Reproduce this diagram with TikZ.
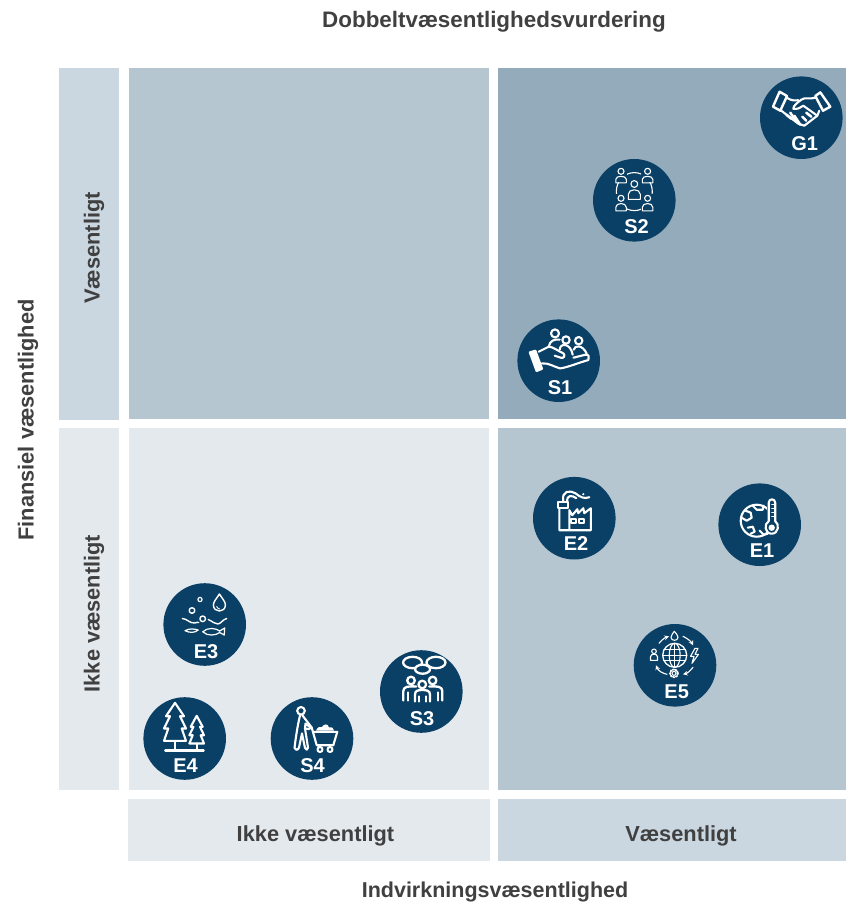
\documentclass[tikz,border=0pt]{standalone}
\usepackage{fontspec}
\setmainfont{Liberation Sans}
\definecolor{badgeblue}{HTML}{0A4066}
\definecolor{fieldpale}{HTML}{E4E9EE}
\definecolor{fieldlight}{HTML}{CAD7E0}
\definecolor{fieldmid}{HTML}{B5C6D1}
\definecolor{fielddark}{HTML}{94ABBB}
\definecolor{labelgrey}{HTML}{404040}
\tikzset{
    axislabel/.style={text=labelgrey,font=\fontsize{21.8}{24}\selectfont\bfseries,inner sep=0pt},
    badge/.style={circle,fill=badgeblue,minimum size=82.6pt,inner sep=0pt,outer sep=0pt},
    badgelabel/.style={text=white,font=\fontsize{20}{22}\selectfont\bfseries,inner sep=0pt},
    iconline/.style={draw=white,line width=2.1pt,line join=round,line cap=round},
    iconthin/.style={draw=white,line width=1.1pt,line join=round,line cap=round},
}
\begin{document}
\begin{tikzpicture}[x=1pt,y=-1pt]
    \useasboundingbox (0,0) rectangle (846,902);

    \fill[fieldmid] (129,68) rectangle (489,419);
    \fill[fielddark] (498,68) rectangle (846,419);
    \fill[fieldpale] (129,428) rectangle (489,790);
    \fill[fieldmid] (498,428) rectangle (846,790);
    \fill[fieldlight] (59,68) rectangle (119,420);
    \fill[fieldpale] (59,428) rectangle (119,790);
    \fill[fieldpale] (128,799) rectangle (490,861);
    \fill[fieldlight] (498,799) rectangle (846,861);

    \node[axislabel,font=\fontsize{22.4}{24}\selectfont\bfseries] (toptitle) at (494,21.5) {Dobbeltvæsentlighedsvurdering};
    \node[axislabel,font=\fontsize{21.5}{24}\selectfont\bfseries] (bottomtitle) at (495,892) {Indvirkningsvæsentlighed};
    \node[axislabel,rotate=90] (lefttitle) at (28,420) {Finansiel væsentlighed};
    \node[axislabel,rotate=90] (rowhigh) at (94,248) {Væsentligt};
    \node[axislabel,rotate=90] (rowlow) at (94,613.5) {Ikke væsentligt};
    \node[axislabel] (collow) at (315.5,836) {Ikke væsentligt};
    \node[axislabel] (colhigh) at (681,836) {Væsentligt};

    \node[badge] (gone) at (801.3,117.7) {};
    \node[badge] (stwo) at (634.3,200.3) {};
    \node[badge] (sone) at (558.7,360.7) {};
    \node[badge] (etwo) at (574.3,518.2) {};
    \node[badge] (eone) at (759.7,524.7) {};
    \node[badge] (efive) at (675,665.3) {};
    \node[badge] (ethree) at (204.7,624.5) {};
    \node[badge] (efour) at (184.7,738.5) {};
    \node[badge] (sfour) at (312,738.5) {};
    \node[badge] (sthree) at (421.3,691.5) {};

    \node[badgelabel] (gonelabel) at (804.7,143.5) {G1};
    \node[badgelabel] (stwolabel) at (636.6,226.2) {S2};
    \node[badgelabel] (sonelabel) at (560,387.5) {S1};
    \node[badgelabel] (etwolabel) at (576,544) {E2};
    \node[badgelabel] (eonelabel) at (762,550.5) {E1};
    \node[badgelabel] (efivelabel) at (676.7,691.5) {E5};
    \node[badgelabel] (ethreelabel) at (206,651.5) {E3};
    \node[badgelabel] (efourlabel) at (185.5,765.5) {E4};
    \node[badgelabel] (sfourlabel) at (312.5,765.5) {S4};
    \node[badgelabel] (sthreelabel) at (422,718.5) {S3};

    \begin{scope}[shift={(gone.center)},iconline]
        \draw[line width=2.4pt] (-21.7,-26)--(-28.3,-11)--(-21,-7)--(-14.3,-21.7)--cycle;
        \draw[line width=2.4pt] (19,-25.3)--(29,-11)--(21.7,-7)--(14,-21.7)--cycle;
        \draw (-14.5,-20) .. controls (-10,-17) and (-7,-17) .. (-3,-17.5);
        \draw (14,-20) .. controls (8,-18) and (4,-21) .. (0,-18) .. controls (-4,-15) and (-8,-12) .. (-8,-9) .. controls (-4,-8) and (-1,-10) .. (2,-12) -- (16,-2);
        \draw (18,-7)--(16,-2)--(3,8)--(-3,6)--(-20,-7);
        \draw[line width=2.6pt] (-15,-3)--(-10,1);
        \draw[line width=2.6pt] (-11,-5)--(-5,4);
        \draw[line width=2.6pt] (-7,-2)--(-1,7);
        \draw[line width=2.6pt] (5,3)--(1,-1);
        \draw[line width=2.6pt] (10,-1)--(5,-5);
    \end{scope}

    \begin{scope}[shift={(stwo.center)},iconthin]
        \draw (0,-8.7) ellipse (18 and 19);
        \fill[badgeblue] (-20,-32) rectangle (-7,-18);
        \fill[badgeblue] (7,-32) rectangle (20,-18);
        \fill[badgeblue] (-20,-6) rectangle (-7,11);
        \fill[badgeblue] (7,-6) rectangle (20,11);
        \draw (-13.3,-29) circle (3);
        \draw (13.3,-29) circle (3);
        \draw (0,-16.3) circle (3.4);
        \draw (-13.3,-2) circle (3);
        \draw (13.3,-2) circle (3);
        \draw (-18.5,-17.5)--(-18.5,-21) .. controls (-18.5,-25) and (-8,-25) .. (-8,-21) -- (-8,-17.5) -- cycle;
        \draw (8,-17.5)--(8,-21) .. controls (8,-25) and (18.5,-25) .. (18.5,-21) -- (18.5,-17.5) -- cycle;
        \draw (-6,-1)--(-6,-6) .. controls (-6,-12) and (6,-12) .. (6,-6) -- (6,-1) -- cycle;
        \draw (-18.5,10.5)--(-18.5,7) .. controls (-18.5,2) and (-8,2) .. (-8,7) -- (-8,10.5) -- cycle;
        \draw (8,10.5)--(8,7) .. controls (8,2) and (18.5,2) .. (18.5,7) -- (18.5,10.5) -- cycle;
    \end{scope}

    \begin{scope}[shift={(sone.center)},iconline]
        \fill[white,rounded corners=1pt] (-30.3,-9)--(-22.7,-11.3)--(-15.3,8.7)--(-22.7,11.7)--cycle;
        \draw (-20,-9) -- (-10,-14) .. controls (-6,-14) and (-1,-10) .. (4.7,-7.3) .. controls (7,-5) and (5,-2) .. (2,-3) -- (-4,-5);
        \draw (-17,2.7) .. controls (-10,2) and (-5,6) .. (1.3,7.7) .. controls (8,7) and (20,2) .. (29.7,-0.7) .. controls (31,-3) and (30,-7) .. (26.7,-6) -- (14.7,-3);
        \draw (-3.7,-27.3) circle (4);
        \draw (7.3,-20.7) circle (3.7);
        \draw (20,-20) circle (3.7);
        \draw (-10,-14) .. controls (-9,-20) and (-4,-22) .. (1,-21);
        \draw (1,-11) .. controls (1,-18) and (12,-18) .. (14,-6);
        \draw (15,-11) .. controls (16,-16) and (24,-16) .. (28,-7);
    \end{scope}

    \begin{scope}[shift={(etwo.center)},iconline]
        \draw (-15,-10)--(-15,12)--(16.5,12)--(16.5,-10)--(10,-5)--(9,-10)--(4,-5)--(3,-9)--(-2,-3)--(-5,-8)--(-5,12);
        \draw (-16,-16.5)--(-6,-16.5)--(-6,-10.5)--(-16,-10.5)--cycle;
        \draw (-11,-17) .. controls (-13,-28) and (-4,-28) .. (1,-25) .. controls (6,-21) and (10,-19) .. (15,-21);
        \draw (-7,-16) .. controls (-8,-24) and (-2,-23) .. (2,-20);
        \fill[white] (9,-24) circle (1.2);
        \draw (-3,0.5) rectangle (1.5,5);
        \draw (5,0.5) rectangle (9.5,5);
    \end{scope}

    \begin{scope}[shift={(eone.center)},iconline]
        \draw (-3,-4) circle (16);
        \fill[badgeblue] (7,-28) rectangle (17,8);
        \draw (9,-3.5)--(9,-22) .. controls (9,-26.5) and (15.5,-26.5) .. (15.5,-22) -- (15.5,-3.5) .. controls (20,-1) and (19,9) .. (12,9) .. controls (5,9) and (4,-1) .. (9,-3.5) -- cycle;
        \draw[line width=0.9pt] (12,-20)--(15,-20);
        \draw[line width=0.9pt] (12,-16)--(15,-16);
        \draw[line width=0.9pt] (12,-12)--(15,-12);
        \draw[line width=0.9pt] (12,-8)--(15,-8);
        \fill[white] (12,3) circle (3.2);
        \draw (-14,-14)--(-9,-12)--(-8,-7)--(-13,-4)--(-18,-7);
        \draw (-7,-19)--(-3,-15)--(3,-15)--(4,-19);
        \draw (-12,3)--(-7,2)--(-5,7)--(-9,9);
        \draw (0,6)--(4,10)--(8,9);
    \end{scope}

    \begin{scope}[shift={(efive.center)},iconthin]
        \draw[line width=1.3pt] (-0.3,-10) circle (12);
        \draw (-0.3,-10) ellipse (5.5 and 12);
        \draw (-0.3,-22)--(-0.3,2);
        \draw (-12.3,-10)--(11.7,-10);
        \draw (-11,-15.5)--(10.4,-15.5);
        \draw (-11,-4.5)--(10.4,-4.5);
        \draw[->,>=stealth] (-16,-22) .. controls (-12,-27) and (-9,-28) .. (-6,-29);
        \draw[->,>=stealth] (8,-29) .. controls (12,-27) and (16,-24) .. (18,-20);
        \draw[->,>=stealth] (18,2) .. controls (15,6) and (12,8) .. (8,9);
        \draw[->,>=stealth] (-8,9) .. controls (-13,8) and (-17,5) .. (-19,0);
        \draw (-0.7,-34) .. controls (-2,-32) and (-4,-30) .. (-4,-28) .. controls (-4,-24) and (3,-24) .. (3,-28) .. controls (3,-30) and (1,-32) .. (-0.7,-34) -- cycle;
        \draw (-21,-14) circle (2.3);
        \draw (-24.5,-5)--(-24.5,-8.5) .. controls (-24.5,-12) and (-17.5,-12) .. (-17.5,-8.5) -- (-17.5,-5) -- cycle;
        \draw (20,-17)--(15.5,-9)--(19,-9)--(17,-2)--(23.5,-11)--(20,-11)--(23,-17)--cycle;
        \draw[line width=1.8pt,dash pattern=on 1.4pt off 1.4pt] (-1,8) circle (4);
        \draw (-1,8) circle (2);
    \end{scope}

    \begin{scope}[shift={(ethree.center)},iconline,line width=1.4pt]
        \draw (14.7,-30.5) .. controls (12,-26) and (8.7,-23) .. (8.7,-19.5) .. controls (8.7,-11.5) and (20.7,-11.5) .. (20.7,-19.5) .. controls (20.7,-23) and (17.5,-26) .. (14.7,-30.5) -- cycle;
        \draw[line width=0.9pt] (12,-18) .. controls (12.5,-16.5) and (13.5,-16) .. (15,-15.5);
        \draw[line width=1.2pt] (-4.7,-25) circle (2.1);
        \draw (-12.7,-14) circle (2.8);
        \draw (-2,-5.7) circle (2.8);
        \draw (-22.3,-6) .. controls (-18,-6) and (-15,-1) .. (-10,-1.5) .. controls (-8,-2) and (-7,-2.5) .. (-6,-2);
        \draw (3.5,-5) .. controls (8,-3) and (10,-0.5) .. (13,-0.5) .. controls (16,-0.5) and (18,-5) .. (22,-6);
        \draw[line width=1.2pt] (-19.7,6.2) .. controls (-15,3.5) and (-10,4.5) .. (-6.5,5.5) .. controls (-10,8.5) and (-15,8.5) .. (-19.7,6.2) -- cycle;
        \draw[line width=1.2pt] (-2,7.3) .. controls (3,2.5) and (11,3.5) .. (15,6.5) -- (20,3.5) -- (19.5,10.5) -- (15,8) .. controls (11,11) and (3,12) .. (-2,7.3) -- cycle;
    \end{scope}

    \begin{scope}[shift={(efour.center)},iconline]
        \draw (-9.7,-35.7)--(-0.7,-22.3)--(-4.7,-22.3)--(1.3,-10)--(-3,-10)--(1.3,2.3)--(-20.7,2.3)--(-16.4,-10)--(-20.7,-10)--(-14.7,-22.3)--(-18.7,-22.3)--cycle;
        \draw (-9.7,2.3)--(-9.7,12);
        \draw (12,-22.7)--(18,-11.7)--(15.3,-11.7)--(19.3,-3.3)--(16,-3.3)--(19.3,5)--(4.7,5)--(8,-3.3)--(4.7,-3.3)--(8.7,-11.7)--(6,-11.7)--cycle;
        \draw (12,5)--(12,12);
        \draw (-19.5,12)--(19,12);
    \end{scope}

    \begin{scope}[shift={(sfour.center)},iconline]
        \draw (-11,-27.7) circle (3.8);
        \draw (-12,-23) .. controls (-14,-15) and (-16,-3) .. (-17.5,9.5) .. controls (-17,12) and (-14,12) .. (-13,9) -- (-10,-5);
        \draw (-10,-5) -- (-7,9.5) .. controls (-6,12) and (-4,11.5) .. (-4,9) -- (-7,-10) -- (-6.5,-15) -- (-1,-10.7) .. controls (-3,-9) and (-4,-9) .. (-5.5,-10);
        \draw (-9.5,-23) -- (-0.3,-11) -- (4.7,6.7) -- (21.3,6.7);
        \draw (2,-6.7)--(25.3,-6.7)--(21.3,6.7);
        \draw (6,7)--(8,8.5);
        \draw (8,11) circle (2.5);
        \draw (18,11) circle (2.5);
        \fill[white] (4,-8) .. controls (6,-12) and (8,-12) .. (10,-11.5) .. controls (12,-15) and (16,-15) .. (17,-11) .. controls (20,-12) and (22,-10) .. (22,-8) -- cycle;
    \end{scope}

    \begin{scope}[shift={(sthree.center)},iconline,line width=2.3pt]
        \draw (-8.7,-29) ellipse (9.5 and 5.7);
        \draw (14.7,-29) ellipse (9.5 and 5.7);
        \draw[fill=badgeblue] (1.3,-22.3) ellipse (7.5 and 4.5);
        \draw (-10.3,-11) circle (3.8);
        \draw (11.3,-11) circle (3.8);
        \draw (1,-7) circle (3.8);
        \draw (-18,9)--(-18,-0.5) .. controls (-18,-5) and (-13,-5.5) .. (-5,-5);
        \draw (-13.5,9)--(-13.5,1);
        \draw (21,9)--(21,-0.5) .. controls (21,-5) and (16,-5.5) .. (8,-5);
        \draw (16.5,9)--(16.5,1);
        \draw (-6.3,10)--(-6.3,3) .. controls (-6.3,-1) and (-3,-1.5) .. (1,-1.5) .. controls (5,-1.5) and (8.7,-1) .. (8.7,3) -- (8.7,10);
        \draw (-2.5,10)--(-2.5,5);
        \draw (5,10)--(5,5);
    \end{scope}
\end{tikzpicture}
\end{document}
